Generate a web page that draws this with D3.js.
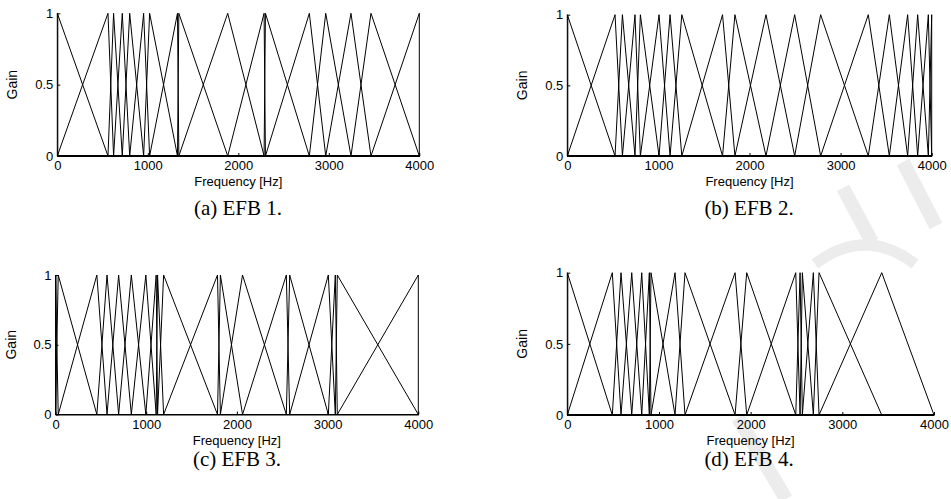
<!DOCTYPE html>
<html>
<head>
<meta charset="utf-8">
<script src="https://cdn.jsdelivr.net/npm/d3@7"></script>
<style>
  body { margin: 0; background: #fff; }
  svg { display: block; }
</style>
</head>
<body>
<svg width="951" height="499"></svg>
<script>
// filter centre frequencies [Hz]
var efb1 = [0, 560, 622, 718, 800, 954, 1020, 1328, 1343, 1883, 2285, 2300, 2785, 2966, 3245, 3466, 4000];
var efb2 = [0, 524, 605, 743, 802, 1007, 1128, 1257, 1704, 1840, 2181, 2496, 2781, 3304, 3535, 3736, 3846, 3963, 4000];
var efb3 = [0, 30, 456, 568, 696, 836, 996, 1110, 1125, 1192, 1786, 1818, 2062, 2545, 2582, 3008, 3085, 3107, 4000];
var efb4 = [0, 491, 586, 703, 812, 895, 913, 1175, 1284, 1830, 1957, 2492, 2539, 2564, 2684, 2746, 3430];

var freqTicks = [0, 1000, 2000, 3000, 4000];
var gainTicks = [0, 0.5, 1];
var captions = ["(a) EFB 1.", "(b) EFB 2.", "(c) EFB 3.", "(d) EFB 4."];
var fMax = 4000;

var svg = d3.select("svg");

// faint watermark strokes behind the plots
var wm = svg.append("g")
    .attr("fill", "none")
    .attr("stroke", "#ececec")
    .attr("stroke-width", 14);
wm.append("path").attr("d", "M843,188 L872,242");
wm.append("path").attr("d", "M903,162 L936,226");
wm.append("path").attr("d", "M815,264 Q865,226 915,264").attr("stroke-width", 11);
wm.append("path").attr("d", "M738,418 L786,499");

var layout = [
    {x0: 57.3, x1: 419.3, yTop: 13.3, yBot: 156, capX: 238, capY: 215},
    {x0: 567.3, x1: 931.7, yTop: 14.7, yBot: 156, capX: 749, capY: 215},
    {x0: 55.5, x1: 418.3, yTop: 275, yBot: 414.5, capX: 237, capY: 466},
    {x0: 567.3, x1: 934, yTop: 272.7, yBot: 415, capX: 749, capY: 466}
];
var banks = [efb1, efb2, efb3, efb4];
var sans = "'Liberation Sans', Arial, sans-serif";

banks.forEach(function(centers, i) {
    var L = layout[i];
    var x = d3.scaleLinear().domain([0, fMax]).range([L.x0, L.x1]);
    var y = d3.scaleLinear().domain([0, 1]).range([L.yBot, L.yTop]);
    var g = svg.append("g");

    // each triangle spans the neighbouring centres, zero elsewhere
    var filters = centers.map(function(c, k) {
        var lo = k == 0 ? 0 : centers[k - 1];
        var hi = k == centers.length - 1 ? fMax : centers[k + 1];
        return [[0, 0], [lo, 0], [c, 1], [hi, 0], [fMax, 0]];
    });

    var line = d3.line()
        .x(function(d) { return x(d[0]); })
        .y(function(d) { return y(d[1]); });

    g.selectAll(".filt").data(filters)
        .enter().append("path")
        .attr("class", "filt")
        .attr("d", line)
        .attr("fill", "none")
        .attr("stroke", "#000")
        .attr("stroke-width", 1);

    var xAxis = g.append("g")
        .attr("transform", "translate(0," + L.yBot + ")")
        .call(d3.axisBottom(x).tickValues(freqTicks).tickFormat(d3.format("d"))
            .tickSizeInner(-3).tickSizeOuter(0).tickPadding(5));
    var yAxis = g.append("g")
        .attr("transform", "translate(" + L.x0 + ",0)")
        .call(d3.axisLeft(y).tickValues(gainTicks).tickFormat(d3.format(""))
            .tickSizeInner(-3).tickSizeOuter(0).tickPadding(4));

    [xAxis, yAxis].forEach(function(a) {
        a.select(".domain").attr("stroke", "#000").attr("stroke-width", 1);
        a.selectAll(".tick line").attr("stroke", "#000");
        a.selectAll(".tick text")
            .attr("fill", "#000")
            .style("font-family", sans)
            .style("font-size", "13px");
    });

    g.append("text")
        .attr("x", (L.x0 + L.x1) / 2)
        .attr("y", L.yBot + 30)
        .attr("text-anchor", "middle")
        .style("font-family", sans)
        .style("font-size", "13px")
        .text("Frequency [Hz]");

    g.append("text")
        .attr("transform", "translate(" + (L.x0 - 40) + "," + y(0.5) + ") rotate(-90)")
        .attr("text-anchor", "middle")
        .style("font-family", sans)
        .style("font-size", "14px")
        .text("Gain");

    svg.append("text")
        .attr("x", L.capX)
        .attr("y", L.capY)
        .attr("text-anchor", "middle")
        .style("font-family", "'Liberation Serif', 'DejaVu Serif', serif")
        .style("font-size", "21px")
        .text(captions[i]);
});
</script>
</body>
</html>
